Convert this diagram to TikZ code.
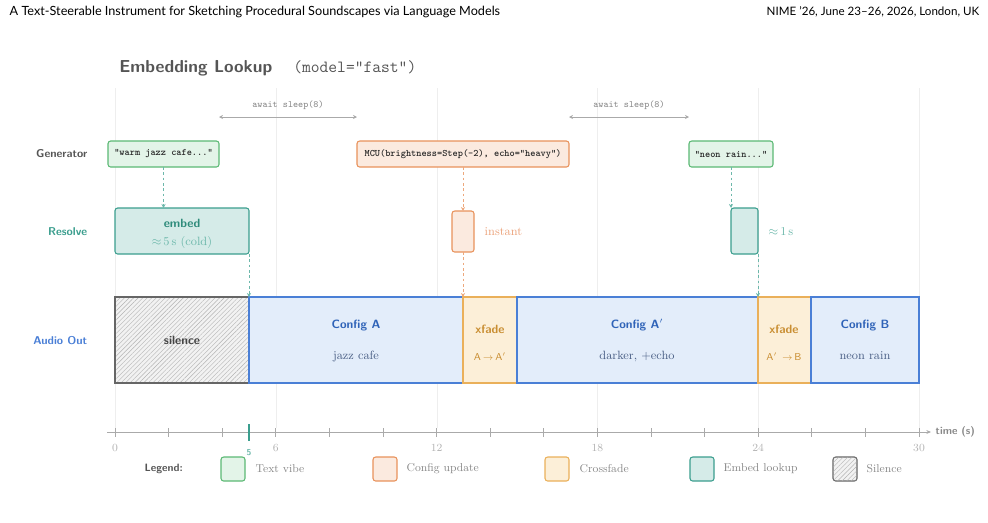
\documentclass[tikz,border=0pt]{standalone}
\usepackage{fontspec}
\newfontfamily\headfont{Lato}
\usetikzlibrary{arrows.meta,patterns.meta,fit}
\definecolor{gbord}{HTML}{5BB974}
\definecolor{gfill}{HTML}{E3F4E8}
\definecolor{obord}{HTML}{E8925B}
\definecolor{ofill}{HTML}{FBEADF}
\definecolor{otext}{HTML}{EBA27A}
\definecolor{ybord}{HTML}{EAB05A}
\definecolor{yfill}{HTML}{FCEFD8}
\definecolor{ytext}{HTML}{C98E32}
\definecolor{tbord}{HTML}{3B9E8E}
\definecolor{tfill}{HTML}{D5EBE8}
\definecolor{ttext}{HTML}{2E8B7B}
\definecolor{tlight}{HTML}{6DB8AB}
\definecolor{bbord}{HTML}{4A7FD6}
\definecolor{bfill}{HTML}{E3EDFA}
\definecolor{btext}{HTML}{2F63B8}
\definecolor{bsub}{HTML}{4A5F85}
\definecolor{gridc}{HTML}{EEEEEE}
\definecolor{axisc}{HTML}{AAAAAA}
\definecolor{dgray}{HTML}{555555}
\definecolor{sgray}{HTML}{666666}
\definecolor{mgray}{HTML}{888888}
\begin{document}
\begin{tikzpicture}[x=0.75pt,y=-0.75pt,
  fitbox/.style={inner sep=0pt, outer sep=0pt},
  genbox/.style={fitbox, draw, line width=0.8pt, rounded corners=2pt},
  resbox/.style={fitbox, draw, line width=0.8pt, rounded corners=2pt},
  audbox/.style={fitbox, draw, line width=0.8pt},
  rowlab/.style={anchor=east, font=\sffamily\bfseries\fontsize{8.5}{10}\selectfont},
  ttlab/.style={font=\ttfamily\bfseries\fontsize{7.4}{9}\selectfont, text=black!85},
  boxtitle/.style={font=\sffamily\bfseries\fontsize{9}{11}\selectfont},
  boxsub/.style={font=\rmfamily\fontsize{9}{11}\selectfont},
  dashconn/.style={line width=0.6pt, dash pattern=on 2pt off 2pt, -{Stealth[length=3pt,width=3pt]}},
  legsw/.style={draw, line width=0.8pt, rounded corners=2pt, minimum width=18pt, minimum height=18pt, inner sep=0pt},
  leglab/.style={anchor=west, font=\rmfamily\fontsize{8.5}{10}\selectfont, text=mgray},
  ticklab/.style={font=\rmfamily\fontsize{8.2}{10}\selectfont, text=axisc!90},
  hatchfill/.style={pattern={Lines[angle=45,distance=2.4pt,line width=0.3pt]}, pattern color=gray!60}
]
\useasboundingbox (0,0) rectangle (988,522);
% header
\node[anchor=west, font=\headfont\fontsize{9.5}{11}\selectfont] (hl) at (5,12) {A Text-Steerable Instrument for Sketching Procedural Soundscapes via Language Models};
\node[anchor=east, font=\headfont\fontsize{8.7}{10}\selectfont] (hr) at (984,12) {NIME ’26, June 23–26, 2026, London, UK};
% title
\node[anchor=base west, inner sep=0pt, font=\sffamily\bfseries\fontsize{13}{15}\selectfont, text=dgray] (title) at (119,72) {Embedding Lookup};
\node[anchor=base west, inner sep=0pt, font=\ttfamily\fontsize{12.8}{15}\selectfont, text=dgray] (model) at (293,72) {(model="fast")};
% grid
\foreach \gx in {115,276,437,597,758,919} \draw[gridc, line width=0.6pt] (\gx,88) -- (\gx,428);
% sleeps
\coordinate (s1a) at (219,117); \coordinate (s1b) at (357,117);
\coordinate (s2a) at (569,117); \coordinate (s2b) at (689,117);
\draw[axisc, line width=0.7pt, {Stealth[length=3pt,width=3pt]}-{Stealth[length=3pt,width=3pt]}] (s1a) -- (s1b);
\draw[axisc, line width=0.7pt, {Stealth[length=3pt,width=3pt]}-{Stealth[length=3pt,width=3pt]}] (s2a) -- (s2b);
\node[font=\ttfamily\fontsize{7.2}{9}\selectfont, text=mgray] (sl1) at (288,105) {await sleep(8)};
\node[font=\ttfamily\fontsize{7.2}{9}\selectfont, text=mgray] (sl2) at (629,105) {await sleep(8)};
% row labels
\node[rowlab, text=dgray] (lgen) at (92,154) {Generator};
\node[rowlab, text=tbord] (lres) at (92,232) {Resolve};
\node[rowlab, text=bbord] (laud) at (92,341) {Audio Out};
% generator boxes
\node[genbox, draw=gbord, fill=gfill, fit={(108,141) (219,167)}] (warm) {};
\node[ttlab] at (warm.center) {"warm jazz cafe..."};
\node[genbox, draw=obord, fill=ofill, fit={(357,141) (569,167)}] (mcu) {};
\node[ttlab] at (mcu.center) {MCU(brightness=Step(-2), echo="heavy")};
\node[genbox, draw=gbord, fill=gfill, fit={(689,141) (773,167)}] (neon) {};
\node[ttlab] at (neon.center) {"neon rain..."};
% resolve boxes
\node[resbox, draw=tbord, fill=tfill, fit={(115,208) (249,254)}] (embed) {};
\node[boxtitle, text=ttext] (embt) at (182,223) {embed};
\node[boxsub, text=tlight] (embs) at (182,242) {$\approx$\,5\,s (cold)};
\node[resbox, draw=obord, fill=ofill, fit={(452,211) (474,252)}] (inst) {};
\node[anchor=west, boxsub, text=otext] (instl) at (480,232) {instant};
\node[resbox, draw=tbord, fill=tfill, fit={(731,208) (758,254)}] (ones) {};
\node[anchor=west, boxsub, text=tlight] (onesl) at (764,232) {$\approx$\,1\,s};
% audio boxes (left to right)
\node[audbox, draw=sgray, fill=gray!10, fit={(115,297) (249,383)}] (sil) {};
\begin{scope}
\fill[hatchfill] (sil.north west) rectangle (sil.south east);
\end{scope}
\draw[sgray, line width=0.8pt] (sil.north west) rectangle (sil.south east);
\node[boxtitle, text=dgray!80!black] at (sil.center) {silence};
\node[audbox, draw=bbord, fill=bfill, fit={(249,297) (463,383)}] (cA) {};
\node[boxtitle, text=btext] at (356,325) {Config A};
\node[boxsub, text=bsub] at (356,356) {jazz cafe};
\node[audbox, draw=ybord, fill=yfill, fit={(463,297) (517,383)}] (xf1) {};
\node[boxtitle, text=ytext] at (490,329) {xfade};
\node[font=\sffamily\fontsize{7.5}{9}\selectfont, text=ytext] at (490,357) {A$\,\to\,$A$'$};
\node[audbox, draw=bbord, fill=bfill, fit={(517,297) (758,383)}] (cAp) {};
\node[boxtitle, text=btext] at (637,325) {Config A$'$};
\node[boxsub, text=bsub] at (637,356) {darker, +echo};
\node[audbox, draw=ybord, fill=yfill, fit={(758,297) (811,383)}] (xf2) {};
\node[boxtitle, text=ytext] at (784,329) {xfade};
\node[font=\sffamily\fontsize{7.5}{9}\selectfont, text=ytext] at (784,357) {A$'\,\to\,$B};
\node[audbox, draw=bbord, fill=bfill, fit={(811,297) (919,383)}] (cB) {};
\node[boxtitle, text=btext] at (865,325) {Config B};
\node[boxsub, text=bsub] at (865,356) {neon rain};
% connectors
\draw[dashconn, tlight] (warm.south) -- (warm.south |- embed.north);
\draw[dashconn, obord!80] (mcu.south) -- (mcu.south |- inst.north);
\draw[dashconn, tlight] (neon.south -| ones.north west) -- (ones.north west);
\draw[dashconn, tlight] (embed.south east) -- (cA.north west);
\draw[dashconn, obord!80] (inst.south) -- (inst.south |- xf1.north);
\draw[dashconn, tlight] (ones.south east) -- (xf2.north west);
% axis
\coordinate (ax0) at (107,432); \coordinate (ax1) at (931,432);
\draw[axisc, line width=0.7pt, -{Stealth[length=3.5pt,width=3pt]}] (ax0) -- (ax1);
\node[anchor=west, font=\sffamily\bfseries\fontsize{8}{10}\selectfont, text=mgray] (tlab) at (ax1) {time (s)};
\foreach \t in {0,2,...,30} \draw[axisc, line width=0.7pt] ({115+26.8*\t},428) -- ({115+26.8*\t},437);
\foreach \t in {0,6,12,18,24,30} \node[ticklab] at ({115+26.8*\t},448) {\t};
\draw[tbord, line width=1pt] (249,424) -- (249,441);
\node[font=\sffamily\bfseries\fontsize{6.5}{8}\selectfont, text=tlight] (five) at (249,453) {5};
% legend
\node[anchor=west, font=\sffamily\bfseries\fontsize{8}{10}\selectfont, text=dgray] (leg) at (140,469) {Legend:};
\node[legsw, draw=gbord, fill=gfill] (lg1) at (233,469) {};
\node[leglab] at (251,469) {Text vibe};
\node[legsw, draw=obord, fill=ofill] (lg2) at (385,469) {};
\node[leglab] at (402,469) {Config update};
\node[legsw, draw=ybord, fill=yfill] (lg3) at (557,469) {};
\node[leglab] at (575,469) {Crossfade};
\node[legsw, draw=tbord, fill=tfill] (lg4) at (702,469) {};
\node[leglab] at (719,469) {Embed lookup};
\node[legsw, draw=sgray, fill=gray!10] (lg5) at (845,469) {};
\begin{scope}
\fill[hatchfill] ([shift={(1,-1)}]lg5.south west) rectangle ([shift={(-1,1)}]lg5.north east);
\end{scope}
\node[leglab] at (862,469) {Silence};
\end{tikzpicture}
\end{document}
